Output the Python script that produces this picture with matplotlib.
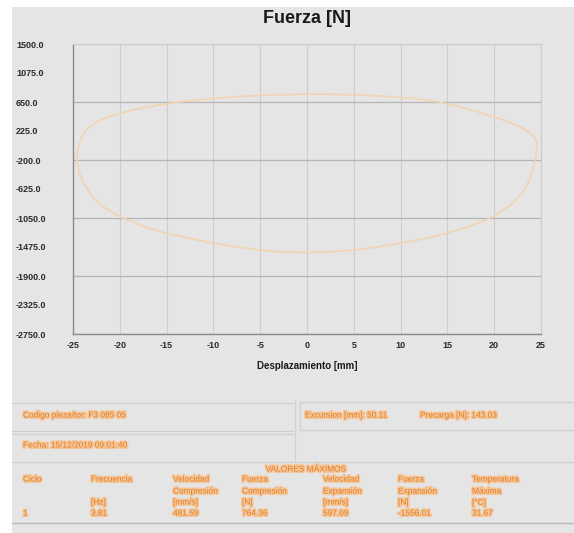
import matplotlib
matplotlib.use("Agg")
import matplotlib.pyplot as plt
from matplotlib.lines import Line2D
from matplotlib.patches import Rectangle
import matplotlib.patheffects as pe

plt.rcParams['font.family'] = ['Liberation Sans', 'DejaVu Sans']

# Force-displacement loop: upper branch (left -> right), lower branch (right -> left)
upper_x = [-24.6, -24.5, -24.2, -23.6, -22.5, -21.0, -19.0, -16.5, -14.0, -11.0,
           -8.0, -5.0, -2.0, 0.5, 3.0, 6.0, 9.0, 12.0, 14.0, 16.0, 18.0, 20.0,
           21.5, 22.8, 23.7, 24.3, 24.6]
upper_f = [-200, -50, 100, 240, 360, 445, 520, 590, 645, 690,
           725, 748, 760, 764, 761, 750, 728, 695, 650, 590, 515, 430,
           360, 285, 215, 130, 40]
lower_x = [24.6, 24.4, 23.9, 23.2, 22.0, 20.5, 19.0, 17.0, 15.0, 12.5, 10.0,
           7.5, 5.0, 2.5, 0.0, -2.5, -5.0, -7.5, -10.0, -12.5, -15.0, -17.5,
           -20.0, -21.5, -22.8, -23.8, -24.3, -24.6]
lower_f = [40, -200, -450, -650, -830, -980, -1090, -1190, -1270, -1355, -1420,
           -1475, -1520, -1545, -1556, -1550, -1520, -1475, -1420, -1350, -1275, -1170,
           -1030, -910, -760, -560, -400, -200]

x_ticks = [-25, -20, -15, -10, -5, 0, 5, 10, 15, 20, 25]
y_ticks = [1500.0, 1075.0, 650.0, 225.0, -200.0, -625.0, -1050.0, -1475.0,
           -1900.0, -2325.0, -2750.0]
y_grid = [1500.0, 650.0, -200.0, -1050.0, -1900.0, -2750.0]

info_row1 = ["Codigo pieza/tor: F3 085 05", "Excursion [mm]: 50.11", "Precarga [N]: 143.03"]
info_row2 = "Fecha: 15/12/2019 09:01:40"
table_title = "VALORES MÁXIMOS"
table_head1 = ["Ciclo", "Frecuencia", "Velocidad", "Fuerza", "Velocidad", "Fuerza", "Temperatura"]
table_head2 = ["", "", "Compresión", "Compresión", "Expansión", "Expansión", "Máxima"]
table_units = ["", "[Hz]", "[mm/s]", "[N]", "[mm/s]", "[N]", "[°C]"]
table_vals = ["1", "3.81", "481.59", "764.36", "597.09", "-1556.01", "31.67"]

W, H = 574, 533
BG = '#e5e5e5'
ORANGE = '#e07d22'
GLOW = '#f5c699'

fig = plt.figure(figsize=(W / 100, H / 100), dpi=100)
fig.patch.set_facecolor('white')


def fx(x):
    return x / W


def fy(y):
    return 1 - y / H


# grey panel
fig.add_artist(Rectangle((fx(12), 0), 1 - fx(12), fy(7), transform=fig.transFigure,
                         facecolor=BG, edgecolor='none', zorder=0))

ax = fig.add_axes([fx(73), fy(334), fx(541) - fx(73), fy(44) - fy(334)])
ax.set_facecolor(BG)
ax.set_xlim(-25, 25)
ax.set_ylim(-2750, 1500)

for v in x_ticks:
    ax.axvline(v, color='#cdcdcd', lw=0.8, zorder=1)
for v in y_grid:
    ax.axhline(v, color='#b5b5b5', lw=0.9, zorder=1)

ax.plot(upper_x + lower_x, upper_f + lower_f, color='#f1d4b2', lw=1.2, zorder=3)

for s in ['top', 'right']:
    ax.spines[s].set_color('#cdcdcd')
    ax.spines[s].set_linewidth(0.8)
for s in ['left', 'bottom']:
    ax.spines[s].set_color('#8a8a8a')
    ax.spines[s].set_linewidth(1.0)

ax.set_xticks(x_ticks)
ax.set_xticklabels([str(t) for t in x_ticks], fontsize=6.5, fontweight='bold', color='#2a2a2a')
ax.set_yticks(y_ticks)
ax.set_yticklabels([f"{t:.1f}" for t in y_ticks], fontsize=6.5, fontweight='bold', color='#2a2a2a')
ax.tick_params(axis='x', length=0, pad=5)
ax.tick_params(axis='y', length=0, pad=41)
for lab in ax.get_yticklabels():
    lab.set_horizontalalignment('left')

ax.set_title("Fuerza [N]", fontsize=13, fontweight='bold', color='#1a1a1a', pad=15)
ax.set_xlabel("Desplazamiento [mm]", fontsize=7, fontweight='bold', color='#1a1a1a', labelpad=8)

# info panel below the chart
line_col = '#cfcfcf'


def hline(y, x0, x1, col=line_col, lw=0.9):
    fig.add_artist(Line2D([fx(x0), fx(x1)], [fy(y), fy(y)], transform=fig.transFigure,
                          color=col, lw=lw))


def vline(x, y0, y1, col=line_col, lw=0.9):
    fig.add_artist(Line2D([fx(x), fx(x)], [fy(y0), fy(y1)], transform=fig.transFigure,
                          color=col, lw=lw))


hline(403, 12, 293)
hline(431, 12, 293)
hline(434, 12, 293)
hline(402, 300, 574)
hline(430, 300, 574)
vline(300, 402, 430)
vline(295, 400, 462)
hline(462, 12, 574)
hline(523, 12, 574, col='#bcbcbc', lw=1.0)

glow = [pe.withStroke(linewidth=2.2, foreground=GLOW)]


def txt(x, y, s, ha='left'):
    fig.text(fx(x), fy(y), s, fontsize=6, color=ORANGE, ha=ha, va='center',
             path_effects=glow)


txt(23, 416, info_row1[0])
txt(305, 416, info_row1[1])
txt(420, 416, info_row1[2])
txt(23, 446, info_row2)
txt(306, 470, table_title, ha='center')

col_x = [23, 91, 173, 242, 323, 398, 472]
for cx, h1, h2, un, va in zip(col_x, table_head1, table_head2, table_units, table_vals):
    txt(cx, 480, h1)
    if h2:
        txt(cx, 492, h2)
    if un:
        txt(cx, 503, un)
    txt(cx, 514, va)

fig.savefig("out.png", dpi=100, facecolor=fig.get_facecolor())
